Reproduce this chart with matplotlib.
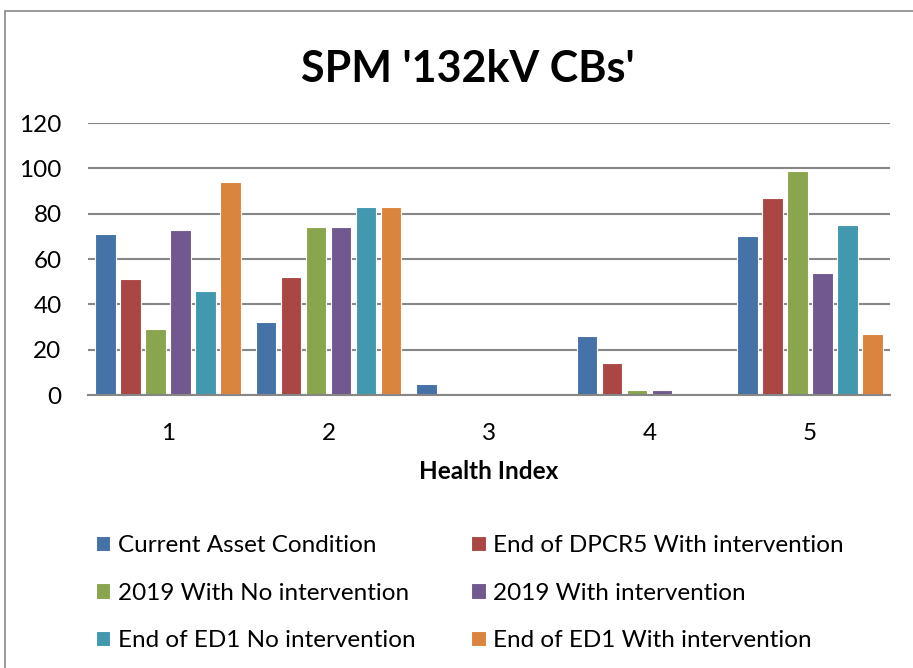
import numpy as np
import matplotlib.pyplot as plt
from matplotlib.patches import Rectangle

plt.rcParams['font.family'] = ['Lato', 'DejaVu Sans']

# DATA
categories = ['1', '2', '3', '4', '5']
series_names = ['Current Asset Condition', 'End of DPCR5 With intervention',
                '2019 With No intervention', '2019 With intervention',
                'End of ED1 No intervention', 'End of ED1 With intervention']
current_asset = [71, 32, 5, 26, 70]
dpcr5_with = [51, 52, 0, 14, 87]
y2019_no = [29, 74, 0, 2, 99]
y2019_with = [73, 74, 0, 2, 54]
ed1_no = [46, 83, 0, 0, 75]
ed1_with = [94, 83, 0, 0, 27]
colors = ['#4572A7', '#AA4643', '#89A54E', '#71588F', '#4198AF', '#DB843D']

series = [current_asset, dpcr5_with, y2019_no, y2019_with, ed1_no, ed1_with]

fig = plt.figure(figsize=(9.13, 6.68), dpi=100)
# outer chart border (only top/left visible in the crop)
fig.patches.append(Rectangle((5 / 913, -0.1), 1.2, 1 - 11 / 668 + 0.1,
                             transform=fig.transFigure, fill=False,
                             edgecolor='#898989', lw=1.2))

ax = fig.add_axes([88 / 913, 1 - 395 / 668, (890 - 88) / 913, (395 - 123) / 668])

x = np.arange(len(categories))
slot = 0.156
width = 0.128
bars = []
for j, vals in enumerate(series):
    b = ax.bar(x + (j - 2.5) * slot, vals, width, color=colors[j],
               edgecolor='white', linewidth=0.8, zorder=3)
    bars.append(b)

ax.set_xlim(-0.5, 4.5)
ax.set_ylim(0, 120)
ax.set_yticks(range(0, 121, 20))
ax.set_xticks(x)
ax.set_xticklabels(categories)
ax.yaxis.grid(True, color='#868686', lw=1.5, zorder=0)
for s in ['top', 'right', 'left']:
    ax.spines[s].set_visible(False)
ax.spines['bottom'].set_color('#868686')
ax.spines['bottom'].set_linewidth(1.5)
ax.spines['bottom'].set_zorder(4)
ax.tick_params(axis='y', length=0, pad=19, labelsize=17.5)
ax.tick_params(axis='x', length=0, pad=20, labelsize=17.5)

ax.set_xlabel('Health Index', fontsize=17.5, fontweight='bold', labelpad=12)
fig.text(468 / 913, 1 - 69 / 668, "SPM '132kV CBs'", ha='center', va='center',
         fontsize=31, fontweight='bold')

# legend filled row by row like Excel
order = [0, 2, 4, 1, 3, 5]
fig.legend([bars[i][0] for i in order], [series_names[i] for i in order],
           loc='upper left', bbox_to_anchor=(74 / 913, 1 - 513 / 668), ncol=2,
           frameon=False, fontsize=17.5, handlelength=0.6, handleheight=0.6,
           handletextpad=0.3, columnspacing=2.3, labelspacing=1.1)

fig.savefig('out.png', dpi=100)
